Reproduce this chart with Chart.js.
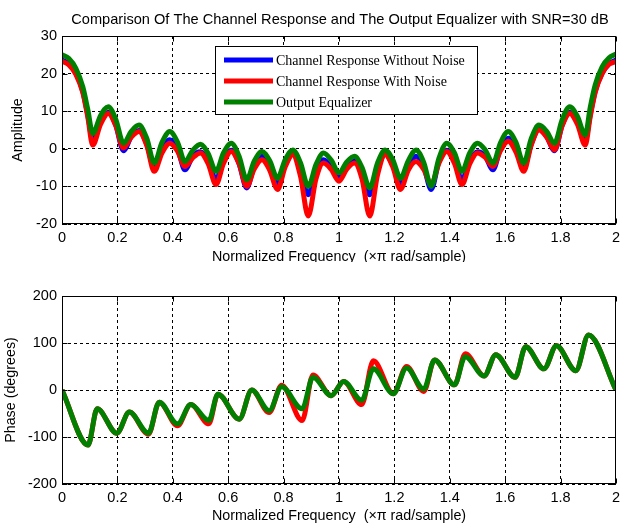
<!DOCTYPE html>
<html>
<head>
<meta charset="utf-8">
<script src="https://cdn.jsdelivr.net/npm/chart.js@4.4.1/dist/chart.umd.min.js"></script>
<style>
body { margin: 0; background: #fff; }
#wrap { position: relative; width: 625px; height: 524px; }
.box { position: absolute; left: 0; width: 625px; height: 262px; }
</style>
</head>
<body>
<div id="wrap">
  <div class="box" style="top:0"><canvas id="mag"></canvas></div>
  <div class="box" style="top:262px"><canvas id="phase"></canvas></div>
</div>
<script>

// magnitude plot (dB)
let magFreq = [0, 0.025, 0.05, 0.075, 0.093, 0.111,
    0.139, 0.167, 0.194, 0.222, 0.25, 0.278, 0.306, 0.333, 0.361, 0.389, 0.417, 0.444,
    0.472, 0.5, 0.528, 0.556, 0.583, 0.611, 0.639, 0.667, 0.694, 0.722, 0.75, 0.778,
    0.806, 0.833, 0.861, 0.889, 0.917, 0.944, 0.972, 1.0, 1.028, 1.056, 1.083, 1.111,
    1.139, 1.167, 1.194, 1.222, 1.25, 1.278, 1.306, 1.333, 1.361, 1.389, 1.417, 1.444,
    1.472, 1.5, 1.528, 1.556, 1.583, 1.611, 1.639, 1.667, 1.694, 1.722, 1.75, 1.778,
    1.806, 1.833, 1.861, 1.889,
    1.907, 1.925, 1.95, 1.975, 2.0];

let magNoNoise = [23.6, 22.6, 20.1, 15.3, 9.0, 2.4,
    7.0, 9.7, 6.3, -0.5, 3.2, 4.9, 1.2, -5.0, -0.2, 2.4, 0.0, -5.6,
    -2.0, -0.8, -3.4, -8.0, -3.3, -0.4, -3.9, -10.4, -4.6, -2.0, -4.8, -9.0,
    -4.3, -1.3, -5.5, -12.2, -6.0, -2.9, -4.8, -7.8, -4.6, -2.9, -6.3, -12.2,
    -5.5, -1.3, -4.3, -9.0, -4.8, -2.0, -4.8, -10.8, -3.3, -0.4, -3.4, -8.0,
    -3.4, -0.8, -2.0, -5.6, 0.1, 2.8, 0.0, -5.0, 1.2, 5.2, 3.2, -0.5,
    6.3, 9.7, 7.0, 2.4,
    9.0, 15.3, 20.1, 22.6, 23.6];

let magNoise = [23.3, 22.3, 19.8, 15.0, 8.5, 1.0,
    6.5, 9.4, 6.2, 0.2, 3.1, 4.6, 0.9, -6.0, -1.1, 1.5, -0.6, -4.7,
    -2.4, -1.1, -4.0, -9.5, -3.9, -0.7, -3.9, -10.0, -5.4, -2.9, -5.7, -10.8,
    -4.8, -1.6, -7.3, -17.9, -8.0, -3.8, -5.5, -8.6, -5.4, -3.8, -8.0, -17.9,
    -7.0, -1.6, -4.8, -10.8, -5.7, -3.4, -5.5, -9.5, -3.8, -0.7, -3.9, -9.5,
    -4.0, -1.1, -2.3, -4.7, -0.5, 2.0, -0.9, -6.0, 1.0, 5.0, 3.1, -0.3,
    6.2, 9.4, 6.5, 1.0,
    8.5, 15.0, 20.0, 22.5, 23.2];

let magEqualizer = [25.0, 24.0, 21.4, 16.5, 10.5, 4.1,
    8.8, 11.2, 7.9, 1.5, 4.6, 6.3, 2.8, -3.8, 1.7, 4.6, 1.8, -3.4,
    -0.4, 1.2, -1.3, -6.0, -1.1, 1.5, -1.9, -8.2, -3.3, -0.7, -3.2, -7.8,
    -2.9, -0.3, -3.7, -10.0, -4.2, -1.1, -3.0, -6.4, -3.5, -2.0, -4.9, -10.4,
    -3.8, -0.3, -2.9, -7.8, -3.2, -0.3, -3.6, -10.0, -2.5, 1.5, -1.1, -6.0,
    -1.1, 1.5, -0.3, -3.8, 1.6, 4.6, 1.7, -3.8, 2.7, 6.3, 4.6, 1.5,
    7.8, 11.2, 8.6, 3.7,
    11.0, 17.0, 21.8, 24.2, 25.2];

// phase plot (degrees)
let phaseFreq = [0, 0.094, 0.127, 0.198, 0.243, 0.312, 0.351, 0.417, 0.465, 0.530,
    0.563, 0.640, 0.685, 0.748, 0.793, 0.867, 0.906, 0.972, 1.017, 1.082,
    1.124, 1.196, 1.244, 1.306, 1.345, 1.417, 1.456, 1.524, 1.566, 1.636,
    1.674, 1.740, 1.785, 1.855, 1.901, 2.0];

let phaseNoise = [0, -117, -40, -92, -47, -94, -26, -76, -31, -72,
    -9, -62, 0, -48, 10, -65, 32, -12, 18, -31,
    62, -8, 50, -3, 64, 11, 77, 30, 75, 27,
    92, 45, 94, 41, 117, 0];

let phaseEqualizer = [0, -117, -40, -92, -47, -92, -26, -72, -31, -65,
    -9, -62, 0, -44, 7, -40, 27, -12, 18, -22,
    45, -8, 47, 2, 64, 11, 71, 30, 75, 27,
    92, 45, 94, 41, 117, 0];

let seriesNames = ['Channel Response Without Noise', 'Channel Response With Noise', 'Output Equalizer'];
let seriesColors = ['#0000ff', '#ff0000', '#008000'];

const sansFont = '"Liberation Sans", Arial, sans-serif';
const tickFont = { family: sansFont, size: 14.5 };

function toPoints(xs, ys) {
    return xs.map((x, i) => ({ x: x, y: ys[i] }));
}

function lineSet(label, xs, ys, color, order) {
    return {
        label: label,
        data: toPoints(xs, ys),
        borderColor: color,
        backgroundColor: color,
        borderWidth: 5,
        pointRadius: 0,
        cubicInterpolationMode: 'monotone',
        clip: 0,
        order: order
    };
}

function xAxis(h) {
    return {
        type: 'linear', min: 0, max: 2,
        afterFit: s => { s.height = h; },
        grid: { color: '#000', drawTicks: false },
        border: { display: false, dash: [3, 3] },
        ticks: {
            stepSize: 0.2, padding: 5, color: '#000', font: tickFont,
            maxRotation: 0, autoSkip: false,
            callback: v => String(+v.toFixed(1))
        }
    };
}

function yAxis(min, max, step) {
    return {
        min: min, max: max,
        afterFit: s => { s.width = 62; },
        grid: { color: '#000', drawTicks: false },
        border: { display: false, dash: [3, 3] },
        ticks: { stepSize: step, padding: 5, color: '#000', font: tickFont }
    };
}

// box, inner tick marks, titles and legend drawn on top like matlab
const framePlugin = {
    id: 'frame',
    afterDraw(chart, args, opts) {
        let ctx = chart.ctx;
        let a = chart.chartArea;
        let x = chart.scales.x, y = chart.scales.y;
        let l = Math.round(a.left) + 0.5, r = Math.round(a.right) - 0.5;
        let t = Math.round(a.top) + 0.5, b = Math.round(a.bottom) - 0.5;
        ctx.save();
        ctx.strokeStyle = '#000';
        ctx.lineWidth = 1;
        ctx.beginPath();
        x.ticks.forEach(tk => {
            let px = Math.round(x.getPixelForValue(tk.value)) + 0.5;
            ctx.moveTo(px, t); ctx.lineTo(px, t + 5);
            ctx.moveTo(px, b); ctx.lineTo(px, b - 5);
        });
        y.ticks.forEach(tk => {
            let py = Math.round(y.getPixelForValue(tk.value)) + 0.5;
            ctx.moveTo(l, py); ctx.lineTo(l + 5, py);
            ctx.moveTo(r, py); ctx.lineTo(r - 5, py);
        });
        ctx.stroke();
        ctx.strokeRect(l, t, r - l, b - t);

        ctx.fillStyle = '#000';
        ctx.textAlign = 'center';
        ctx.textBaseline = 'middle';
        if (opts.title) {
            ctx.font = '14.6px ' + sansFont;
            ctx.fillText(opts.title, 340, 20);
        }
        ctx.font = '14.3px ' + sansFont;
        ctx.fillText(opts.xlabel, 339, opts.xlabelY);
        ctx.save();
        ctx.translate(opts.ylabelX, (a.top + a.bottom) / 2);
        ctx.rotate(-Math.PI / 2);
        ctx.fillText(opts.ylabel, 0, 0);
        ctx.restore();

        if (opts.legend) {
            let lx = 215.5, ly = 46.5, lw = 262, lh = 68;
            ctx.fillStyle = '#fff';
            ctx.fillRect(lx, ly, lw, lh);
            ctx.strokeRect(lx, ly, lw, lh);
            ctx.font = '14px "Liberation Serif", "Times New Roman", serif';
            ctx.textAlign = 'left';
            for (let i = 0; i < seriesNames.length; i++) {
                let rowY = 60 + i * 21;
                ctx.strokeStyle = seriesColors[i];
                ctx.lineWidth = 5;
                ctx.beginPath();
                ctx.moveTo(224, rowY); ctx.lineTo(273, rowY);
                ctx.stroke();
                ctx.fillStyle = '#000';
                ctx.fillText(seriesNames[i], 276, rowY + 1);
            }
        }
        ctx.restore();
    }
};

let magChart = new Chart(document.getElementById('mag'), {
    type: 'line',
    data: {
        datasets: [
            lineSet(seriesNames[0], magFreq, magNoNoise, seriesColors[0], 3),
            lineSet(seriesNames[1], magFreq, magNoise, seriesColors[1], 2),
            lineSet(seriesNames[2], magFreq, magEqualizer, seriesColors[2], 1)
        ]
    },
    options: {
        responsive: true,
        maintainAspectRatio: false,
        animation: false,
        events: [],
        layout: { padding: { top: 36, right: 6, left: 0, bottom: 0 } },
        scales: { x: xAxis(38), y: yAxis(-20, 30, 10) },
        plugins: {
            legend: { display: false },
            tooltip: { enabled: false },
            frame: {
                title: 'Comparison Of The Channel Response and The Output Equalizer with SNR=30 dB',
                xlabel: 'Normalized Frequency  (\u00d7\u03c0 rad/sample)',
                xlabelY: 257,
                ylabel: 'Amplitude',
                ylabelX: 18,
                legend: true
            }
        }
    },
    plugins: [framePlugin]
});

let phaseChart = new Chart(document.getElementById('phase'), {
    type: 'line',
    data: {
        datasets: [
            lineSet(seriesNames[1], phaseFreq, phaseNoise, seriesColors[1], 2),
            lineSet(seriesNames[2], phaseFreq, phaseEqualizer, seriesColors[2], 1)
        ]
    },
    options: {
        responsive: true,
        maintainAspectRatio: false,
        animation: false,
        events: [],
        layout: { padding: { top: 34, right: 6, left: 0, bottom: 0 } },
        scales: { x: xAxis(40), y: yAxis(-200, 200, 100) },
        plugins: {
            legend: { display: false },
            tooltip: { enabled: false },
            frame: {
                xlabel: 'Normalized Frequency  (\u00d7\u03c0 rad/sample)',
                xlabelY: 254,
                ylabel: 'Phase (degrees)',
                ylabelX: 11,
                legend: false
            }
        }
    },
    plugins: [framePlugin]
});

</script>
</body>
</html>
